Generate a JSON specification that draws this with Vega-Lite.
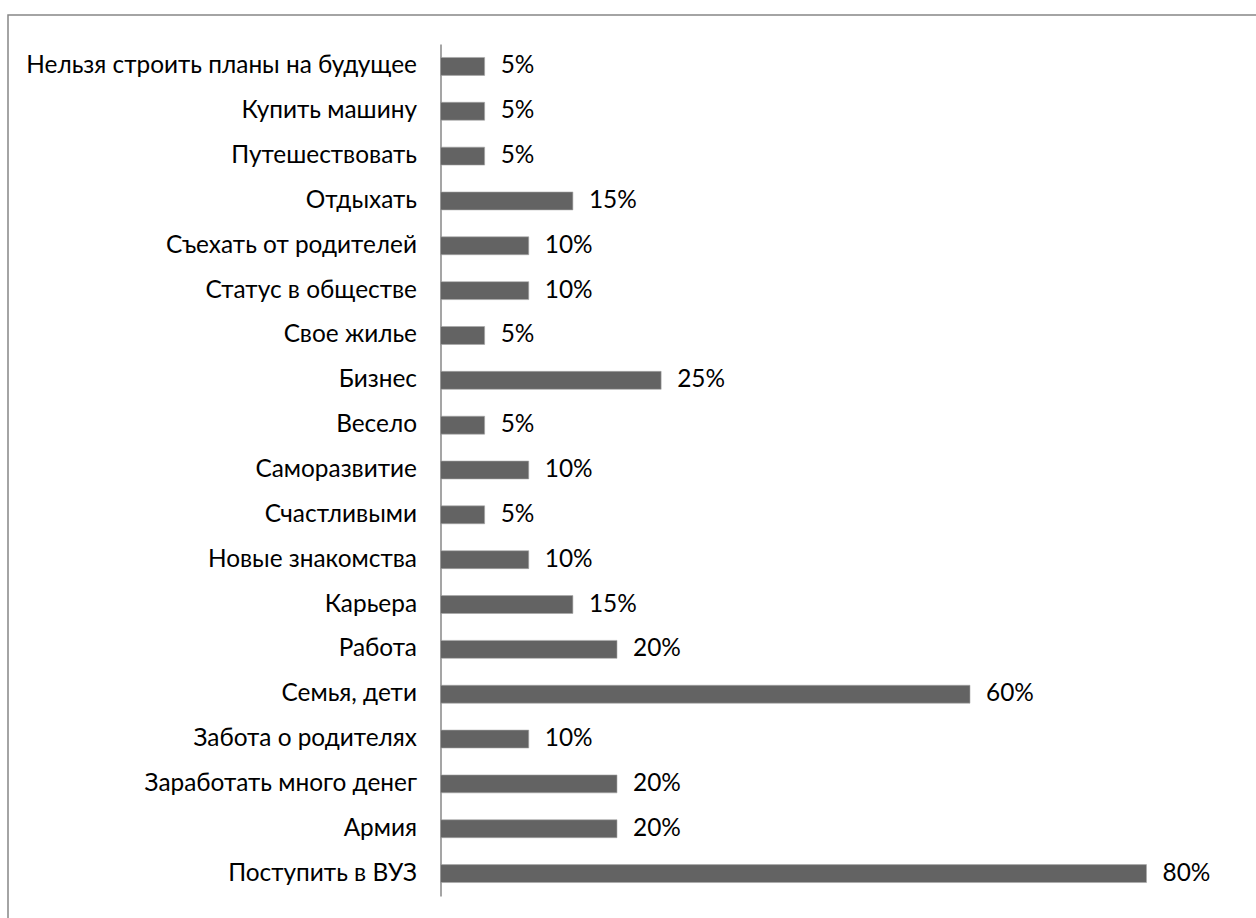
{
  "$schema": "https://vega.github.io/schema/vega-lite/v6.json",
  "width": 1262,
  "height": 920,
  "padding": {"left": 8, "top": 15, "right": 0, "bottom": 0},
  "autosize": {"type": "none"},
  "background": "white",
  "config": {"view": {"stroke": "#878787", "strokeWidth": 1.5}},
  "data": {
    "values": [
      {"item": "Нельзя строить планы на будущее", "value": 0.05},
      {"item": "Купить машину", "value": 0.05},
      {"item": "Путешествовать", "value": 0.05},
      {"item": "Отдыхать", "value": 0.15},
      {"item": "Съехать от родителей", "value": 0.10},
      {"item": "Статус в обществе", "value": 0.10},
      {"item": "Свое жилье", "value": 0.05},
      {"item": "Бизнес", "value": 0.25},
      {"item": "Весело", "value": 0.05},
      {"item": "Саморазвитие\u00a0", "value": 0.10},
      {"item": "Счастливыми", "value": 0.05},
      {"item": "Новые знакомства", "value": 0.10},
      {"item": "Карьера", "value": 0.15},
      {"item": "Работа", "value": 0.20},
      {"item": "Семья, дети", "value": 0.60},
      {"item": "Забота о родителях", "value": 0.10},
      {"item": "Заработать много денег", "value": 0.20},
      {"item": "Армия", "value": 0.20},
      {"item": "Поступить в ВУЗ", "value": 0.80}
    ]
  },
  "encoding": {
    "y": {
      "field": "item",
      "type": "nominal",
      "sort": null,
      "scale": {"range": [29, 881], "paddingInner": 0.6, "paddingOuter": 0.3},
      "axis": {
        "title": null,
        "offset": -432.5,
        "domainColor": "#878787",
        "domainWidth": 1.5,
        "ticks": false,
        "labelPadding": 24,
        "labelFont": "Lato",
        "labelFontSize": 24.4,
        "labelColor": "black",
        "labelLimit": 600
      }
    },
    "x": {
      "field": "value",
      "type": "quantitative",
      "scale": {"domain": [0, 0.9], "range": [432.5, 1226.75]},
      "axis": null
    }
  },
  "layer": [
    {"mark": {"type": "bar", "color": "#636363", "stroke": "#a8a8a8", "strokeWidth": 0.6}},
    {
      "mark": {"type": "text", "align": "left", "dx": 16, "font": "Lato", "fontSize": 24.4, "color": "black"},
      "encoding": {"text": {"field": "value", "type": "quantitative", "format": ".0%"}}
    }
  ]
}
